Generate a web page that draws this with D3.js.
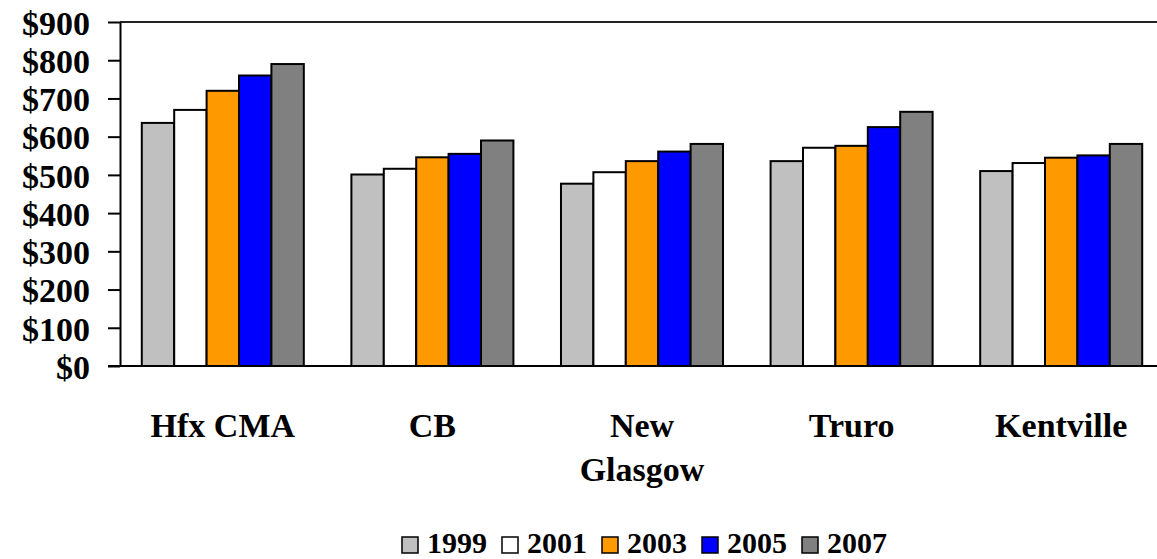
<!DOCTYPE html>
<html>
<head>
<meta charset="utf-8">
<script src="https://cdn.jsdelivr.net/npm/d3@7"></script>
<style>
  body { margin: 0; background: #fff; }
  svg text { font-family: "Liberation Serif", "Times New Roman", serif; font-weight: bold; fill: #000; }
</style>
</head>
<body>
<div id="chart"></div>
<script>
// data
var cities = ['Hfx CMA', 'CB', 'New Glasgow', 'Truro', 'Kentville'];
var years = ['1999', '2001', '2003', '2005', '2007'];
var yearColors = ['#C0C0C0', '#FFFFFF', '#FF9900', '#0000FF', '#808080'];
var rent1999 = [636, 501, 477, 536, 510];
var rent2001 = [670, 516, 507, 571, 531];
var rent2003 = [720, 546, 536, 576, 545];
var rent2005 = [760, 555, 561, 625, 551];
var rent2007 = [790, 590, 581, 665, 581];
var yTicks = [0, 100, 200, 300, 400, 500, 600, 700, 800, 900];

var series = [rent1999, rent2001, rent2003, rent2005, rent2007];

var width = 1157, height = 559;
var margin = {top: 22, left: 120, bottom: 366};

var svg = d3.select('#chart').append('svg')
    .attr('width', width)
    .attr('height', height);

var x0 = d3.scaleBand()
    .domain(cities)
    .range([118, 1166])
    .paddingInner(0.227)
    .paddingOuter(0.1135);

var x1 = d3.scaleBand()
    .domain(years)
    .range([0, x0.bandwidth()]);

var y = d3.scaleLinear()
    .domain([0, 900])
    .range([margin.bottom, margin.top]);

// top border of plot area
svg.append('line')
    .attr('x1', margin.left).attr('x2', width)
    .attr('y1', y(900)).attr('y2', y(900))
    .style('stroke', '#222').style('stroke-width', 2);

// bars
var groups = svg.selectAll('.city')
    .data(cities)
    .enter().append('g')
    .attr('class', 'city')
    .attr('transform', function(d) { return 'translate(' + x0(d) + ',0)'; });

groups.selectAll('rect')
    .data(function(d, i) {
        return years.map(function(yr, j) { return {year: yr, value: series[j][i], k: j}; });
    })
    .enter().append('rect')
    .attr('x', function(d) { return x1(d.year); })
    .attr('y', function(d) { return y(d.value); })
    .attr('width', x1.bandwidth())
    .attr('height', function(d) { return y(0) - y(d.value); })
    .style('fill', function(d) { return yearColors[d.k]; })
    .style('stroke', '#000')
    .style('stroke-width', 2);

// y axis
var yAxis = d3.axisLeft(y)
    .tickValues(yTicks)
    .tickSize(12)
    .tickSizeOuter(0)
    .tickFormat(function(d) { return '$' + d; });

var yG = svg.append('g')
    .attr('transform', 'translate(' + margin.left + ',0)')
    .call(yAxis);
yG.select('.domain').style('stroke', '#000').style('stroke-width', 2);
yG.selectAll('.tick line').style('stroke', '#000').style('stroke-width', 2);
yG.selectAll('.tick text')
    .attr('x', -30)
    .attr('dy', '0.36em')
    .style('font-size', '34px')
    .style('font-family', '"Liberation Serif", serif');

// x axis baseline
svg.append('line')
    .attr('x1', 108).attr('x2', width)
    .attr('y1', y(0)).attr('y2', y(0))
    .style('stroke', '#000').style('stroke-width', 2);

// category labels
var catLabels = svg.selectAll('.cat')
    .data(cities)
    .enter().append('text')
    .attr('class', 'cat')
    .attr('text-anchor', 'middle')
    .style('font-size', '34px')
    .attr('transform', function(d) { return 'translate(' + (x0(d) + x0.bandwidth() / 2) + ',437)'; });

catLabels.each(function(d) {
    var words = d === 'New Glasgow' ? ['New', 'Glasgow'] : [d];
    var t = d3.select(this);
    words.forEach(function(w, i) {
        t.append('tspan').attr('x', 0).attr('y', i * 44).text(w);
    });
});

// legend
var legend = svg.append('g').attr('class', 'legend');
var item = legend.selectAll('g')
    .data(years)
    .enter().append('g')
    .attr('transform', function(d, i) { return 'translate(' + (402 + i * 100) + ',537)'; });

item.append('rect')
    .attr('width', 16).attr('height', 16)
    .style('fill', function(d, i) { return yearColors[i]; })
    .style('stroke', '#000').style('stroke-width', 1.5);

item.append('text')
    .attr('x', 25)
    .attr('y', 16)
    .style('font-size', '30px')
    .text(function(d) { return d; });
</script>
</body>
</html>
